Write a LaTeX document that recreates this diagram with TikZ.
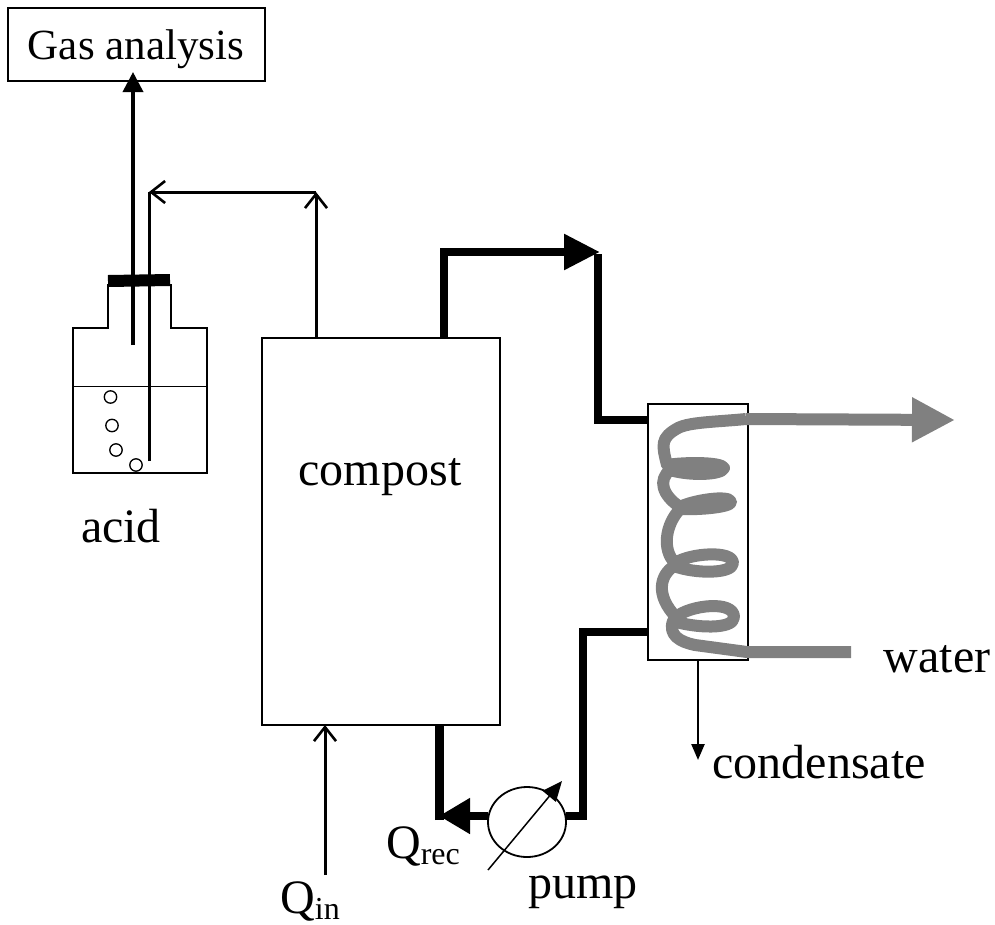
\documentclass[tikz,border=0pt]{standalone}
\usepackage{fontspec}
\setmainfont{Liberation Serif}
\usetikzlibrary{arrows.meta, shapes.geometric}
\definecolor{coilgray}{gray}{0.5}
\newcommand{\bigtext}{\fontsize{48}{52}\selectfont}
\newcommand{\flowlabel}[1]{Q\raisebox{-6pt}{\fontsize{32}{32}\selectfont #1}}
\tikzset{
	vessel/.style={draw, line width=1.8pt, inner sep=0pt, outer sep=0pt},
	label text/.style={inner sep=0pt, font=\bigtext},
	pipe/.style={line width=8.5pt, line join=miter},
	coil/.style={draw=coilgray, line width=12pt, line cap=butt},
	gas line/.style={line width=3pt},
	open tip/.style={-{Straight Barb[length=14pt,width=22pt,line width=2.6pt]}}
}
\begin{document}
\begin{tikzpicture}[x=1pt, y=-1pt]
	\useasboundingbox (0, 0) rectangle (995, 924);
	\node [vessel, minimum width=257pt, minimum height=73pt] (gas) at (136.5, 44.5) {};
	\node [inner sep=0pt, font=\fontsize{43}{46}\selectfont] (gaslabel) at (136, 49) {Gas analysis};
	\node [vessel, minimum width=238pt, minimum height=387pt] (compost) at (381, 531.5) {};
	\node [label text] (compostlabel) at (380, 477) {compost};
	\node [vessel, minimum width=100pt, minimum height=256pt] (cond) at (698, 532) {};
	\node [vessel, ellipse, minimum width=78pt, minimum height=70pt] (pump) at (527, 822) {};
	\node [label text] (acid) at (121, 526) {acid};
	\node [label text] (water) at (937, 659) {water};
	\node [label text] (condensate) at (819, 762) {condensate};
	\node [label text] (pumplabel) at (583, 892) {pump};
	\node [label text] (qrec) at (423, 846) {\flowlabel{rec}};
	\node [label text] (qin) at (310, 901) {\flowlabel{in}};
	\coordinate (tube1) at (133, 345);
	\coordinate (tube3) at (133, 72);
	\coordinate (tube2) at (149, 461);
	\coordinate (bend1) at (149, 192);
	\coordinate (bend2) at (316, 192);
	\coordinate (vent) at (316, 338);
	\coordinate (feed) at (325, 875);
	\coordinate (hot1) at (444, 252);
	\coordinate (hot2) at (600, 252);
	\coordinate (hot3) at (598, 420);
	\coordinate (back1) at (583, 632);
	\coordinate (back2) at (583, 816);
	\coordinate (rec1) at (439, 816);
	\coordinate (drain) at (698, 760);

	% bottle
	\draw [line width=1.8pt] (108, 284) -- (108, 328) -- (73, 328) -- (73, 473) -- (207, 473) -- (207, 328) -- (171, 328) -- (171, 284);
	\draw [line width=1pt] (73, 386) -- (207, 386);
	\foreach \x/\y in {110.5/397, 112/425.5, 116/450, 136/465}
		\draw [line width=1.3pt] (\x, \y) circle (6.2pt);
	\draw [line width=12pt] (108, 281) -- (170, 280);

	\draw [gas line, line width=3.6pt, -{Triangle[length=20pt,width=20pt]}] (tube1) -- (tube3);
	\draw [gas line] (tube2) -- (bend1);
	\draw [gas line, open tip] (bend2) -- (bend1);
	\draw [gas line, open tip] (vent) -- (bend2);
	\draw [gas line, open tip] (feed) -- (feed |- compost.south);

	\draw [pipe, -{Triangle[length=36pt,width=34pt]}] (compost.north -| hot1) -- (hot1) -- (hot2);
	\draw [pipe] (598, 254) -- (hot3) -- (hot3 -| cond.west);
	\draw [pipe, line width=8pt] (back1 -| cond.west) -- (back1) -- (back2) -- (pump.east |- back2);
	\draw [pipe, line width=8pt, -{Triangle[length=31pt,width=34pt]}] (pump.west |- back2) -- (rec1);
	\draw [pipe, line width=9pt] (439, 820) -- (rec1 |- compost.south);
	\draw [line width=1.5pt, -{Triangle[length=20pt,width=17pt]}] (488, 870) -- (562, 781);
	\draw [line width=2.4pt, -{Triangle[length=16pt,width=13pt]}] (cond.south -| drain) -- (drain);

	% coil
	\draw [coil, -{Triangle[length=43pt,width=42pt]}] (746, 419) -- (955, 420);
	\draw [coil, line join=round] (746, 419) .. controls (715, 422) and (690, 422) .. (678, 428)
		.. controls (660, 438) and (662, 445) .. (667, 465)
		.. controls (685, 462) and (722, 462) .. (724, 468) .. controls (722, 475) and (690, 476) .. (670, 470)
		.. controls (658, 480) and (662, 495) .. (680, 507)
		.. controls (690, 501) and (730, 494) .. (731, 502) .. controls (731, 507) and (700, 510) .. (680, 509)
		.. controls (665, 525) and (662, 550) .. (675, 563)
		.. controls (690, 553) and (733, 550) .. (733, 563) .. controls (733, 574) and (695, 574) .. (674, 566)
		.. controls (660, 575) and (655, 595) .. (676, 617)
		.. controls (690, 605) and (734, 600) .. (734, 617) .. controls (734, 630) and (695, 628) .. (673, 621)
		.. controls (668, 635) and (680, 642) .. (695, 645)
		-- (747, 652) -- (851, 652);
\end{tikzpicture}
\end{document}
